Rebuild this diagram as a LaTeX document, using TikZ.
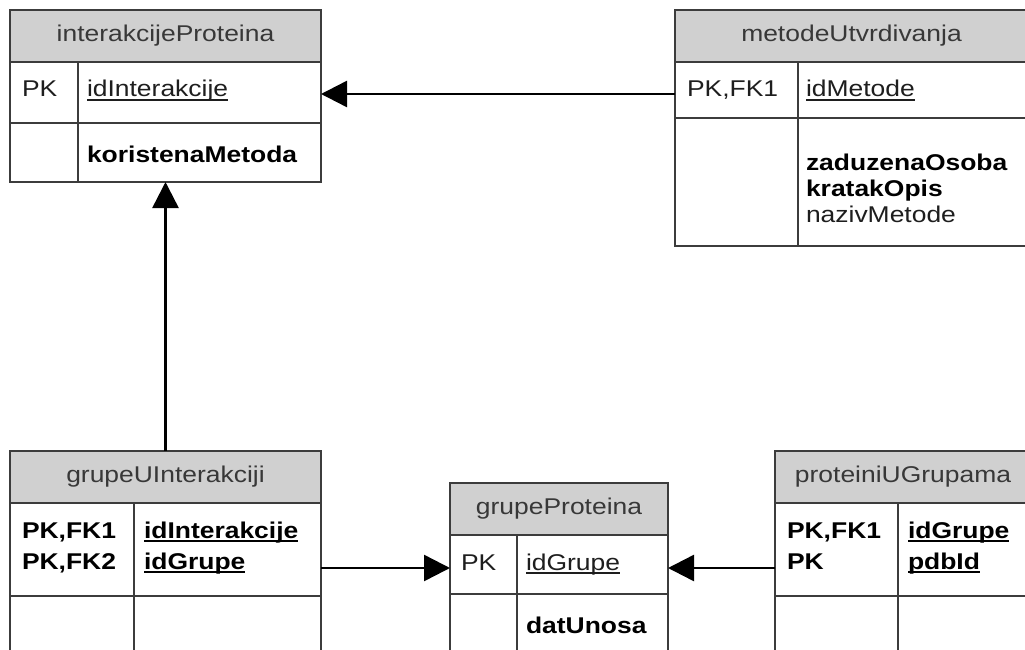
\documentclass[tikz,border=0pt]{standalone}
\usepackage{fontspec}
\setmainfont{Liberation Sans}[FakeStretch=1.16]
\usetikzlibrary{arrows.meta}
\definecolor{hdrfill}{HTML}{D0D0D0}
\definecolor{rulecol}{HTML}{3C3C3C}
\definecolor{ink}{HTML}{1E1E1E}
% key attribute: text with a rule just under its baseline
\newcommand\keyname[1]{\leavevmode\setbox0\hbox{#1}\rlap{\rule[-3.6pt]{\wd0}{1.5pt}}\box0}

\begin{document}
\begin{tikzpicture}[x=1pt,y=-1pt,
  cell/.style={draw=rulecol, line width=2pt, inner sep=0pt, outer sep=0pt, anchor=north west, fill=white},
  hdr/.style={cell, fill=hdrfill, text=black!78, font=\fontsize{22.8}{27}\selectfont},
  fld/.style={inner sep=0pt, outer sep=0pt, anchor=base west, text=ink, font=\fontsize{22.8}{27}\selectfont},
  bfld/.style={fld, text=black, font=\fontsize{22.8}{27}\selectfont\bfseries},
  fk/.style={line width=2.5pt, draw=black, -{Triangle[length=26pt,width=26pt]}},
]
\path[use as bounding box, clip] (0,0) rectangle (1025,650);
\fill[white] (0,0) rectangle (1025,650);

% interakcijeProteina
\node[hdr,  minimum width=311, minimum height=52] (ip-h)  at (10,10)  {interakcijeProteina};
\node[cell, minimum width=68,  minimum height=61] (ip-k1) at (10,62)  {};
\node[cell, minimum width=243, minimum height=61] (ip-f1) at (78,62)  {};
\node[cell, minimum width=68,  minimum height=59] (ip-k2) at (10,123) {};
\node[cell, minimum width=243, minimum height=59] (ip-f2) at (78,123) {};
\node[fld]  (ip-t1) at (22,97)  {PK};
\node[fld]  (ip-t2) at (87,97)  {\keyname{idInterakcije}};
\node[bfld] (ip-t3) at (87,162) {koristenaMetoda};

% metodeUtvrdivanja
\node[hdr,  minimum width=353, minimum height=52]  (mu-h)  at (675,10)  {metodeUtvrdivanja};
\node[cell, minimum width=123, minimum height=56]  (mu-k1) at (675,62)  {};
\node[cell, minimum width=230, minimum height=56]  (mu-f1) at (798,62)  {};
\node[cell, minimum width=123, minimum height=128] (mu-k2) at (675,118) {};
\node[cell, minimum width=230, minimum height=128] (mu-f2) at (798,118) {};
\node[fld]  (mu-t1) at (687,97)  {PK,FK1};
\node[fld]  (mu-t2) at (806,97)  {\keyname{idMetode}};
\node[bfld] (mu-t3) at (806,170) {zaduzenaOsoba};
\node[bfld] (mu-t4) at (806,196) {kratakOpis};
\node[fld]  (mu-t5) at (806,222) {nazivMetode};

% grupeUInterakciji
\node[hdr,  minimum width=311, minimum height=52] (gi-h)  at (10,451)  {grupeUInterakciji};
\node[cell, minimum width=124, minimum height=93] (gi-k1) at (10,503)  {};
\node[cell, minimum width=187, minimum height=93] (gi-f1) at (134,503) {};
\node[cell, minimum width=124, minimum height=80] (gi-k2) at (10,596)  {};
\node[cell, minimum width=187, minimum height=80] (gi-f2) at (134,596) {};
\node[bfld] (gi-t1) at (22,538)  {PK,FK1};
\node[bfld] (gi-t2) at (22,569)  {PK,FK2};
\node[bfld] (gi-t3) at (144,538) {\keyname{idInterakcije}};
\node[bfld] (gi-t4) at (144,569) {\keyname{idGrupe}};

% grupeProteina
\node[hdr,  minimum width=218, minimum height=52] (gp-h)  at (450,483) {grupeProteina};
\node[cell, minimum width=67,  minimum height=59] (gp-k1) at (450,535) {};
\node[cell, minimum width=151, minimum height=59] (gp-f1) at (517,535) {};
\node[cell, minimum width=67,  minimum height=80] (gp-k2) at (450,594) {};
\node[cell, minimum width=151, minimum height=80] (gp-f2) at (517,594) {};
\node[fld]  (gp-t1) at (461,570) {PK};
\node[fld]  (gp-t2) at (526,570) {\keyname{idGrupe}};
\node[bfld] (gp-t3) at (526,633) {datUnosa};

% proteiniUGrupama
\node[hdr,  minimum width=256, minimum height=52] (pu-h)  at (775,451) {proteiniUGrupama};
\node[cell, minimum width=123, minimum height=93] (pu-k1) at (775,503) {};
\node[cell, minimum width=133, minimum height=93] (pu-f1) at (898,503) {};
\node[cell, minimum width=123, minimum height=80] (pu-k2) at (775,596) {};
\node[cell, minimum width=133, minimum height=80] (pu-f2) at (898,596) {};
\node[bfld] (pu-t1) at (787,538) {PK,FK1};
\node[bfld] (pu-t2) at (787,569) {PK};
\node[bfld] (pu-t3) at (908,538) {\keyname{idGrupe}};
\node[bfld] (pu-t4) at (908,569) {\keyname{pdbId}};

% relationship levels
\coordinate (top-lvl) at (0,94);
\coordinate (bot-lvl) at (0,568);

% foreign-key connectors
\draw[fk] (mu-k1.west |- top-lvl) -- (ip-f1.east |- top-lvl);
\draw[fk] (gi-h.north) -- (gi-h.north |- ip-f2.south);
\draw[fk] (gi-f1.east |- bot-lvl) -- (gp-k1.west |- bot-lvl);
\draw[fk] (pu-k1.west |- bot-lvl) -- (gp-f1.east |- bot-lvl);
\end{tikzpicture}
\end{document}
